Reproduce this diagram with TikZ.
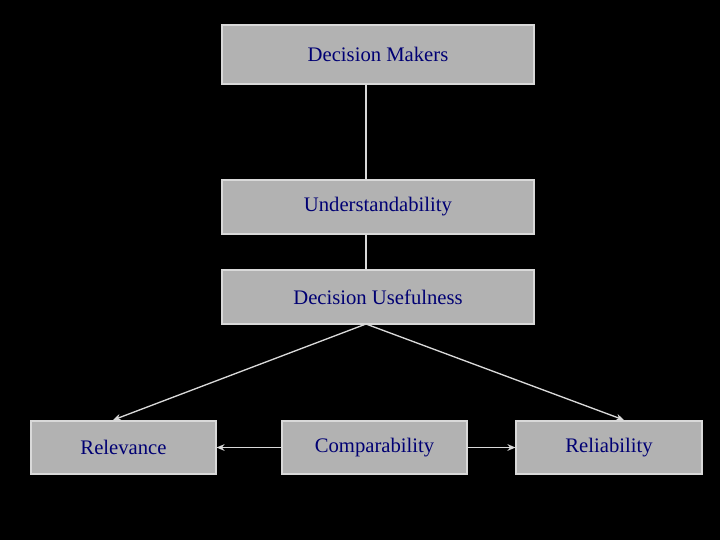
\documentclass[tikz,border=0pt]{standalone}
\usepackage{fontspec}
\setmainfont{Liberation Serif}
\usetikzlibrary{arrows.meta}
\begin{document}
\begin{tikzpicture}[x=0.75pt,y=-0.75pt,
  box/.style={draw=white!85!black,fill=black!30,line width=0.8pt,text=blue!45!black,font=\fontsize{15.5}{18}\selectfont,inner sep=0pt},
  con/.style={draw=white!85!black,line width=1pt},
  arr/.style={con,-{Stealth[length=6pt,width=5pt]}}]
\fill[black] (0,0) rectangle (720,540);
\useasboundingbox (0,0) rectangle (720,540);
\node[box,minimum width=312*0.75pt,minimum height=59*0.75pt] (dm) at (378,54.5) {Decision Makers};
\node[box,minimum width=312*0.75pt,minimum height=54*0.75pt] (un) at (378,207) {Understandability};
\node[box,minimum width=312*0.75pt,minimum height=54*0.75pt] (du) at (378,297) {Decision Usefulness};
\node[box,minimum width=185*0.75pt,minimum height=53*0.75pt] (rel) at (123.5,447.5) {Relevance};
\node[box,minimum width=185*0.75pt,minimum height=53*0.75pt] (com) at (374.5,447.5) {Comparability};
\node[box,minimum width=186*0.75pt,minimum height=53*0.75pt] (rlb) at (609,447.5) {Reliability};
\coordinate (t1) at (366,84); \coordinate (b1) at (366,180);
\coordinate (t2) at (366,234); \coordinate (b2) at (366,270);
\coordinate (s) at (366,324);
\coordinate (e1) at (113,420); \coordinate (e2) at (624,420);
\draw[con] (t1) -- (b1);
\draw[con] (t2) -- (b2);
\draw[arr] (s) -- (e1);
\draw[arr] (s) -- (e2);
\draw[arr] (com.west) -- (rel.east);
\draw[arr] (com.east) -- (rlb.west);
\end{tikzpicture}
\end{document}
